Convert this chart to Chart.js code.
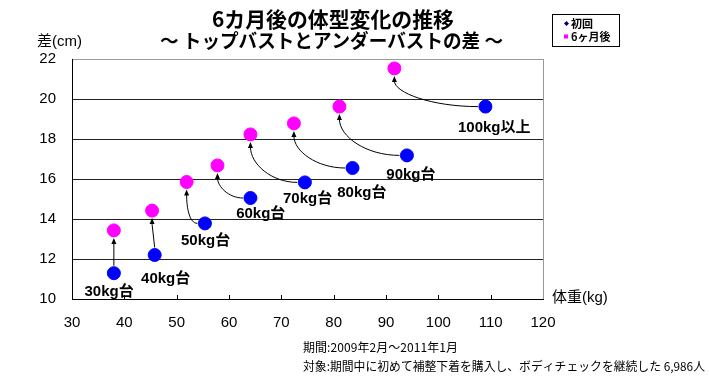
<!DOCTYPE html>
<html><head><meta charset="utf-8">
<script src="https://cdn.jsdelivr.net/npm/chart.js@4/dist/chart.umd.min.js"></script>
<style>html,body{margin:0;padding:0;background:#fff;}#wrap{width:709px;height:387px;position:relative;}</style>
</head><body><div id="wrap"><canvas id="c" width="709" height="387"></canvas></div>
<script>
// ---- data ----
const groupLabels = ['30kg台','40kg台','50kg台','60kg台','70kg台','80kg台','90kg台','100kg以上'];
const firstWeight = [38.0, 45.8, 55.4, 64.1, 74.5, 83.6, 94.0, 109.0];
const firstDiff   = [11.29, 12.2, 13.78, 15.05, 15.83, 16.55, 17.18, 19.62];
const afterWeight = [38.0, 45.3, 51.9, 57.8, 64.1, 72.4, 81.1, 91.6];
const afterDiff   = [13.43, 14.42, 15.85, 16.68, 18.23, 18.78, 19.62, 21.53];
const xTicks = [30, 40, 50, 60, 70, 80, 90, 100, 110, 120];
const yTicks = [10, 12, 14, 16, 18, 20, 22];
const seriesNames = ['初回', '6ヶ月後'];
const titleLines = ['6カ月後の体型変化の推移', '～ トップバストとアンダーバストの差 ～'];
const yAxisTitle = '差(cm)';
const xAxisTitle = '体重(kg)';
const notes = ['期間:2009年2月～2011年1月', '対象:期間中に初めて補整下着を購入し、ボディチェックを継続した 6,986人'];

// ---- styles (pixel offsets of group labels from the first-visit point) ----
const labelOffsets = [[-4.8,18.4],[11,24.3],[0.7,17.7],[10.3,16.3],[2.7,16.4],[9.3,24.7],[4,19],[8.8,21.6]];
const BLUE = '#0000FF', MAGENTA = '#FF00FF';
const JP = "'Liberation Sans','Noto Sans CJK JP',sans-serif";
const R = 6.5;

function fitText(ctx, text, x, y, width, align) {
  const w = ctx.measureText(text).width;
  if (w > width) {
    ctx.textAlign = align;
    ctx.fillText(text, x, y, width);
  } else {
    const n = [...text].length;
    ctx.letterSpacing = ((width - w) / Math.max(1, n - 1)).toFixed(2) + 'px';
    ctx.textAlign = 'left';
    const start = align === 'center' ? x - width / 2 : x;
    ctx.fillText(text, start, y);
    ctx.letterSpacing = '0px';
  }
}

const decor = {
  id: 'decor',
  beforeDatasetsDraw(chart) {
    const ctx = chart.ctx, xs = chart.scales.x, ys = chart.scales.y;
    ctx.save();
    ctx.strokeStyle = '#000'; ctx.fillStyle = '#000'; ctx.lineWidth = 1;
    for (let i = 0; i < firstWeight.length; i++) {
      const bx = xs.getPixelForValue(firstWeight[i]), by = ys.getPixelForValue(firstDiff[i]);
      const mx = xs.getPixelForValue(afterWeight[i]), my = ys.getPixelForValue(afterDiff[i]);
      const ex = mx, ey = my + R + 1;
      ctx.beginPath();
      const dx = bx - mx;
      if (Math.abs(dx) < 3) {
        ctx.moveTo(bx, by - R - 1); ctx.lineTo(ex, ey + 6);
      } else if (Math.abs(dx) < 12) {
        const sx = bx - R * 0.75, sy = by - R * 0.75;
        ctx.moveTo(sx, sy);
        ctx.bezierCurveTo(sx - 10, sy - 10, ex - 7, ey + 12, ex, ey + 5);
      } else {
        const sx = bx - R - 1, sy = by;
        let c1x = sx - (sx - ex) * 0.55;
        c1x = Math.min(c1x, sx - 8);
        const c2y = ey + (sy - ey) * 0.55;
        ctx.moveTo(sx, sy);
        ctx.bezierCurveTo(c1x, sy, ex, c2y, ex, ey + 5);
      }
      ctx.stroke();
      ctx.beginPath();
      ctx.moveTo(ex, ey);
      ctx.lineTo(ex - 2.5, ey + 6);
      ctx.lineTo(ex + 2.5, ey + 6);
      ctx.closePath();
      ctx.fill();
    }
    ctx.restore();
  },
  afterDraw(chart) {
    const ctx = chart.ctx, xs = chart.scales.x, ys = chart.scales.y, a = chart.chartArea;
    ctx.save();
    ctx.strokeStyle = '#999'; ctx.lineWidth = 1;
    ctx.beginPath(); ctx.moveTo(a.right + 0.5, a.top); ctx.lineTo(a.right + 0.5, a.bottom); ctx.stroke();
    ctx.strokeStyle = '#000';
    xTicks.slice(1, -1).forEach(v => {
      const px = Math.round(xs.getPixelForValue(v)) + 0.5;
      ctx.beginPath(); ctx.moveTo(px, a.bottom); ctx.lineTo(px, a.bottom - 4); ctx.stroke();
    });
    ctx.fillStyle = '#000';
    ctx.font = "bold 15px " + JP;
    ctx.textAlign = 'center'; ctx.textBaseline = 'middle';
    for (let i = 0; i < groupLabels.length; i++) {
      const bx = xs.getPixelForValue(firstWeight[i]), by = ys.getPixelForValue(firstDiff[i]);
      ctx.fillText(groupLabels[i], bx + labelOffsets[i][0], by + labelOffsets[i][1]);
    }
    ctx.textBaseline = 'middle';
    ctx.font = "bold 21px 'Noto Sans CJK JP',sans-serif";
    fitText(ctx, titleLines[0], 333, 19, 242, 'center');
    ctx.font = "bold 19px 'Noto Sans CJK JP',sans-serif";
    fitText(ctx, titleLines[1], 331.5, 41, 343, 'center');
    ctx.font = "15px " + JP;
    ctx.textAlign = 'left';
    ctx.fillText(yAxisTitle, 37, 42);
    ctx.fillText(xAxisTitle, 552, 298);
    ctx.font = "12px 'Noto Sans CJK JP',sans-serif";
    fitText(ctx, notes[0], 303, 347, 155, 'left');
    fitText(ctx, notes[1], 303, 366, 402, 'left');
    ctx.strokeStyle = '#000'; ctx.lineWidth = 1;
    ctx.strokeRect(552.5, 14.5, 67, 32);
    ctx.fillStyle = '#000080';
    ctx.beginPath(); ctx.moveTo(566.5, 21); ctx.lineTo(569, 23.5); ctx.lineTo(566.5, 26); ctx.lineTo(564, 23.5); ctx.closePath(); ctx.fill();
    ctx.fillStyle = MAGENTA;
    ctx.fillRect(564, 34.5, 4, 4);
    ctx.fillStyle = '#000';
    ctx.font = "bold 11px 'Noto Sans CJK JP',sans-serif";
    ctx.textAlign = 'left'; ctx.textBaseline = 'middle';
    ctx.fillText(seriesNames[0], 571, 23.5);
    ctx.fillText(seriesNames[1], 571, 37);
    ctx.restore();
  }
};

new Chart(document.getElementById('c'), {
  type: 'scatter',
  data: {
    datasets: [
      { label: seriesNames[0], data: firstWeight.map((x, i) => ({x, y: firstDiff[i]})),
        backgroundColor: BLUE, borderColor: BLUE, pointRadius: R, pointHoverRadius: R },
      { label: seriesNames[1], data: afterWeight.map((x, i) => ({x, y: afterDiff[i]})),
        backgroundColor: MAGENTA, borderColor: MAGENTA, pointRadius: R, pointHoverRadius: R }
    ]
  },
  options: {
    responsive: false, animation: false, devicePixelRatio: 1,
    layout: { padding: { left: 0, top: 59, right: 166, bottom: 58 } },
    plugins: { legend: { display: false }, title: { display: false }, tooltip: { enabled: false } },
    scales: {
      x: {
        type: 'linear', min: xTicks[0], max: xTicks[xTicks.length - 1],
        afterBuildTicks: s => { s.ticks = xTicks.map(v => ({value: v})); },
        afterFit: s => { s.height = 30; },
        ticks: { color: '#000', font: { size: 15, family: "'Liberation Sans',sans-serif" }, padding: 15, maxRotation: 0 },
        grid: { drawOnChartArea: false, drawTicks: false },
        border: { color: '#000', width: 1 }
      },
      y: {
        type: 'linear', min: yTicks[0], max: yTicks[yTicks.length - 1],
        afterBuildTicks: s => { s.ticks = yTicks.map(v => ({value: v})); },
        afterFit: s => { s.width = 72; },
        ticks: { color: '#000', font: { size: 15, family: "'Liberation Sans',sans-serif" }, padding: 16 },
        grid: { drawTicks: false, color: c => (c.tick && c.tick.value === 22) ? '#999' : '#222', lineWidth: 1 },
        border: { color: '#000', width: 1 }
      }
    }
  },
  plugins: [decor]
});
</script></body></html>
